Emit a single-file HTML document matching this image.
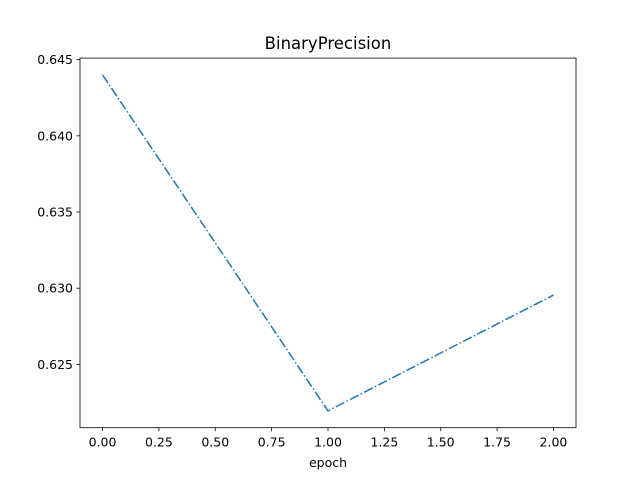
<!DOCTYPE html>
<html><head><meta charset="utf-8"><style>
body{margin:0;background:#fff;}
svg text{font-family:"DejaVu Sans","Liberation Sans",sans-serif;fill:#000;}
</style></head><body>
<svg id="chart" width="640" height="480" xmlns="http://www.w3.org/2000/svg">
<rect width="640" height="480" fill="#fff"/>
<text x="328" y="49" font-size="16.5" text-anchor="middle">BinaryPrecision</text>
<g id="axes"></g>
<text x="328" y="467" font-size="12.5" text-anchor="middle">epoch</text>
</svg>
<script>
const epochs = [0, 1, 2];
const precision = [0.644, 0.62195, 0.62955];
const xTicks = [0, 0.25, 0.5, 0.75, 1.0, 1.25, 1.5, 1.75, 2.0];
const xTickLabels = ["0.00","0.25","0.50","0.75","1.00","1.25","1.50","1.75","2.00"];
const yTicks = [0.625, 0.630, 0.635, 0.640, 0.645];
const yTickLabels = ["0.625","0.630","0.635","0.640","0.645"];

const L=80,R=576,T=58.08,B=427.68;
const xmin=Math.min(...epochs),xmax=Math.max(...epochs),xm=(xmax-xmin)*0.05;
const ymin=Math.min(...precision),ymax=Math.max(...precision),ym=(ymax-ymin)*0.05;
const X=v=>L+(v-(xmin-xm))/((xmax+xm)-(xmin-xm))*(R-L);
const Y=v=>B-(v-(ymin-ym))/((ymax+ym)-(ymin-ym))*(B-T);
const NS="http://www.w3.org/2000/svg";
const g=document.getElementById('axes');
function mk(tag,attrs){const e=document.createElementNS(NS,tag);for(const k in attrs)e.setAttribute(k,attrs[k]);g.appendChild(e);return e;}
xTicks.forEach((t,i)=>{
  const x=X(t);
  const l=mk('line',{x1:x,x2:x,y1:B,y2:B+3.5,stroke:'#000','stroke-width':0.8});
  
  
  const tx=mk('text',{x:x,y:B+19,'font-size':12.5,'text-anchor':'middle'});
  tx.textContent=xTickLabels[i];
  
  
});
yTicks.forEach((t,i)=>{
  const y=Y(t);
  const l=mk('line',{x1:L-3.5,x2:L,y1:y,y2:y,stroke:'#000','stroke-width':0.8});
  
  
  const tx=mk('text',{x:L-7,y:y+4.5,'font-size':12.5,'text-anchor':'end'});
  tx.textContent=yTickLabels[i];
  
  
});
const pts=epochs.map((e,i)=>X(e)+','+Y(precision[i])).join(' ');
const line=mk('polyline',{points:pts,fill:'none',stroke:'#1f77b4','stroke-width':1.5,'stroke-dasharray':'9.6,2.4,1.5,2.4'});


const fr=mk('rect',{x:L,y:T,width:R-L,height:B-T,fill:'none',stroke:'#000','stroke-width':0.8});


</script>
</body></html>
